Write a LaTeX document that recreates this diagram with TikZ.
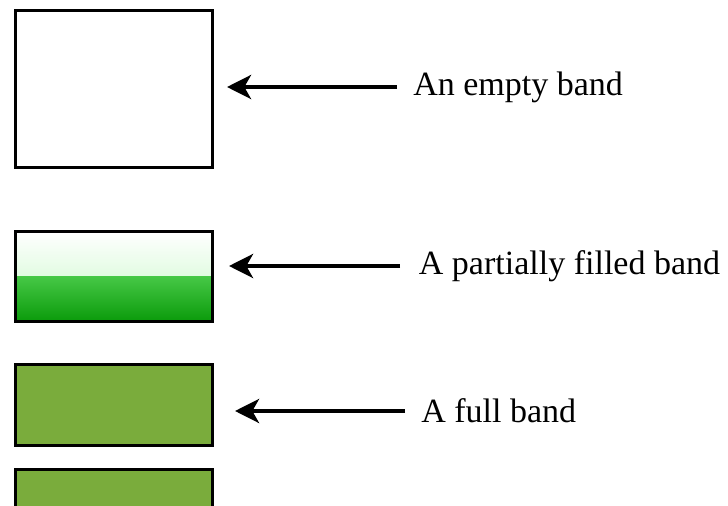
\documentclass[tikz,border=0pt]{standalone}
\usepackage{fontspec}
\setmainfont{Liberation Serif}
\usetikzlibrary{positioning,arrows.meta}
\definecolor{fullgreen}{HTML}{7AAC3C}
\definecolor{palegreen}{HTML}{C4F8C4}
\definecolor{midgreen}{HTML}{46C846}
\definecolor{deepgreen}{HTML}{0A9A0A}
\tikzset{
  band/.style={draw=black, line width=2.25pt, minimum width=148pt},
  bandarrow/.style={line width=3pt, -{Stealth[length=18pt,width=18pt,inset=5pt]}},
  lbl/.style={inner sep=0pt, font=\fontsize{25.5}{30}\selectfont}
}
\begin{document}
\begin{tikzpicture}[x=0.75pt,y=-0.75pt]
        \useasboundingbox (0,0) rectangle (728,506);
        \clip (0,0) rectangle (728,506);
        % Bands
        \node[band, minimum height=118pt, fill=white] (emptyband) at (114,89) {};
        \node[band, minimum height=68pt, path picture={
            \shade[top color=white, bottom color=palegreen]
              (path picture bounding box.north west) rectangle (path picture bounding box.east);
            \shade[top color=midgreen, bottom color=deepgreen]
              (path picture bounding box.west) rectangle (path picture bounding box.south east);
          }] (partband) at (114,276.5) {};
        \node[band, minimum height=61pt, fill=fullgreen] (fullband) at (114,405) {};
        \node[band, minimum height=61pt, fill=fullgreen] (nextband) at (114,510) {};
        % Arrow ends
        \coordinate (tipempty) at (227,87);
        \coordinate (tailempty) at (397,87);
        \coordinate (tippart) at (229,266);
        \coordinate (tailpart) at (400,266);
        \coordinate (tipfull) at (235,411);
        \coordinate (tailfull) at (405,411);
        % Labels
        \node[lbl, right=12pt of tailempty] (txtempty) {An empty band};
        \node[lbl, right=14pt of tailpart] (txtpart) {A partially filled band};
        \node[lbl, right=12pt of tailfull] (txtfull) {A full band};
        % Arrows
        \draw[bandarrow] (tailempty) -- (tipempty);
        \draw[bandarrow] (tailpart) -- (tippart);
        \draw[bandarrow] (tailfull) -- (tipfull);
    \end{tikzpicture}
\end{document}
